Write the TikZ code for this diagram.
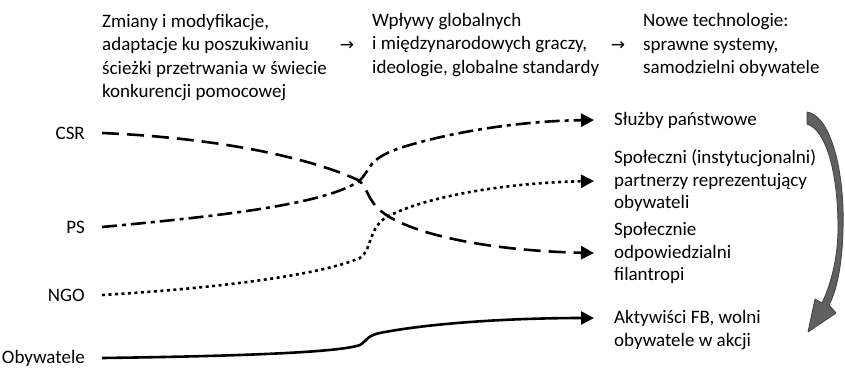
\documentclass[tikz,border=0pt]{standalone}
\usepackage{fontspec}
\setmainfont{Carlito}
\newfontfamily\symfont{DejaVu Sans}
\usetikzlibrary{arrows.meta}

\tikzset{
  txt/.style    = {inner sep=0pt, align=left, font=\fontsize{19}{22.5}\selectfont},
  hdr/.style    = {txt, font=\fontsize{19}{23.5}\selectfont},
  sym/.style    = {inner sep=0pt, font=\symfont\fontsize{17}{17}\selectfont},
  flow/.style   = {line width=2.6pt, -{Triangle[length=13pt,width=13pt]}},
  csrline/.style= {flow, dash pattern=on 17pt off 8pt},
  psline/.style = {flow, dash pattern=on 15pt off 5pt on 4pt off 5pt},
  ngoline/.style= {flow, dash pattern=on 3pt off 3.5pt},
}

\begin{document}
\begin{tikzpicture}[x=1pt, y=-1pt]
        \useasboundingbox (0,0) rectangle (845,367);

        %Header
        \node [hdr, anchor=west] (hdra) at (102,57.5)
              {Zmiany i modyfikacje,\\adaptacje ku poszukiwaniu\\ścieżki przetrwania w świecie\\konkurencji pomocowej};
        \node [sym] (arra) at (347,46) {→};
        \node [hdr, anchor=west] (hdrb) at (372,45)
              {Wpływy globalnych\\i międzynarodowych graczy,\\ideologie, globalne standardy};
        \node [sym] (arrb) at (618,46) {→};
        \node [hdr, anchor=west] (hdrc) at (643,45)
              {Nowe technologie:\\sprawne systemy,\\samodzielni obywatele};

        %Actors
        \node [txt, anchor=east] (csr) at (85,133) {CSR};
        \node [txt, anchor=east] (ps)  at (85,227) {PS};
        \node [txt, anchor=east] (ngo) at (85,295) {NGO};
        \node [txt, anchor=east] (oby) at (85,358) {Obywatele};

        %Outcomes
        \node [txt, anchor=west] (sluzby) at (614,120) {Służby państwowe};
        \node [txt, anchor=west] (partn)  at (614,181)
              {Społeczni (instytucjonalni)\\partnerzy reprezentujący\\obywateli};
        \node [txt, anchor=west] (filan)  at (614,253)
              {Społecznie\\odpowiedzialni\\filantropi};
        \node [txt, anchor=west] (aktyw)  at (614,330)
              {Aktywiści FB, wolni\\obywatele w akcji};

        %Paths
        \draw [csrline] ([xshift=17pt]csr.east)
              .. controls (220,138) and (310,158) .. (358,180)
              .. controls (370,188) and (365,205) .. (395,220)
              .. controls (430,238) and (500,251) .. ([xshift=-20pt]filan.west);
        \draw [psline]  ([xshift=17pt]ps.east)
              .. controls (220,216) and (320,205) .. (358,182)
              .. controls (372,170) and (365,160) .. (400,148)
              .. controls (450,132) and (520,121) .. ([xshift=-20pt]sluzby.west);
        \draw [ngoline] ([xshift=17pt]ngo.east)
              .. controls (220,288) and (320,275) .. (360,258)
              .. controls (372,250) and (368,230) .. (385,218)
              .. controls (420,198) and (500,183) .. ([xshift=-20pt]partn.west);
        \draw [flow]    ([xshift=17pt]oby.east)
              .. controls (250,356) and (340,352) .. (360,345)
              .. controls (368,340) and (366,335) .. (385,332)
              .. controls (440,322) and (520,318) .. ([shift={(-20,-12)}]aktyw.west);

        %Curved arrow
        \draw [fill=gray!75!black, draw=black!75, line width=0.8pt, line join=round]
              (807,112) .. controls (830,115) and (845,170) .. (843,230)
              .. controls (842,268) and (836,292) .. (829,305)
              -- (836,313) -- (808,332) -- (815,299) -- (822,303)
              .. controls (832,282) and (838,255) .. (838,228)
              .. controls (838,172) and (826,130) .. (807,124) -- cycle;

\end{tikzpicture}
\end{document}
